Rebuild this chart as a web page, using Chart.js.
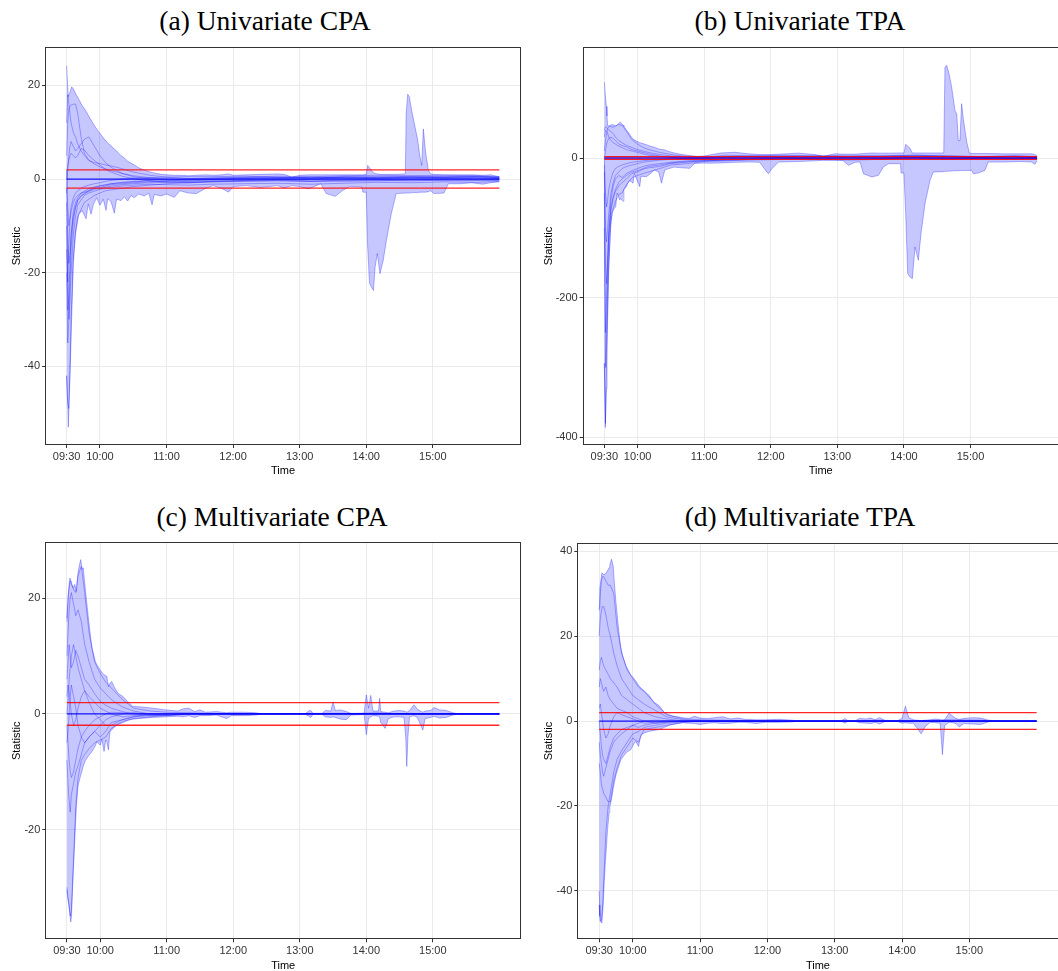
<!DOCTYPE html>
<html>
<head>
<meta charset="utf-8">
<script src="https://cdn.jsdelivr.net/npm/chart.js@4.4.1/dist/chart.umd.min.js"></script>
<style>
  html, body { margin: 0; padding: 0; background: #fff; width: 1058px; height: 971px; overflow: hidden; }
  .panel { position: absolute; width: 530px; height: 440px; }
  .panel canvas { display: block; }
  .title { position: absolute; font-family: "Liberation Serif", "Times New Roman", serif; font-size: 27.5px;
           line-height: 27px; white-space: nowrap; transform: translateX(-50%); color: #000; }
</style>
</head>
<body>
<div class="title" style="left:265px;top:7px">(a) Univariate CPA</div>
<div class="title" style="left:800px;top:7px">(b) Univariate TPA</div>
<div class="title" style="left:272px;top:503px">(c) Multivariate CPA</div>
<div class="title" style="left:800px;top:503px">(d) Multivariate TPA</div>

<div class="panel" style="left:0;top:40px"><canvas id="panelA" width="530" height="440"></canvas></div>
<div class="panel" style="left:529px;top:40px"><canvas id="panelB" width="530" height="440"></canvas></div>
<div class="panel" style="left:0;top:535px"><canvas id="panelC" width="530" height="440"></canvas></div>
<div class="panel" style="left:529px;top:535px"><canvas id="panelD" width="530" height="440"></canvas></div>

<script>
// Time is counted in minutes after the 09:30 open; the session closes at 16:00 (390 min).
const tickMinutes = [0, 30, 90, 150, 210, 270, 330];
const tickLabels = ['09:30', '10:00', '11:00', '12:00', '13:00', '14:00', '15:00'];
const sessionBounds = [0, 390];
const criticalValues = [-1.96, 1.96];
const centreLevel = 0;

// Sampling times shared by the individual statistic paths
const lineMinutes = [0, 1, 2, 3, 4, 6, 8, 10, 13, 16, 20, 25, 30, 35, 40, 50, 60, 75, 90, 110, 130, 160, 190, 220, 250, 280, 310, 340, 370, 390];

// ---------- (a) Univariate CPA ----------
const minutesA = [0, 1, 1.5, 3, 4.5, 6, 8, 11, 14, 17.5, 19.5, 22, 24, 27, 30, 33, 35.5, 37, 40, 43, 45, 49, 52, 55, 58, 61, 65, 70, 74, 77, 79, 85, 90, 97, 102, 110, 117, 125, 132, 140, 146, 150, 162, 175, 190, 196, 203, 210, 218, 229, 234, 242, 249, 255, 266, 267, 270, 271.3, 273, 276.5, 278, 280, 282.4, 285.3, 288.2, 292.6, 297, 305.3, 306, 307.4, 308.8, 310.9, 314, 316.2, 318.5, 320, 321.5, 323.5, 326, 328, 331, 340, 344, 355, 365, 375, 382, 390];
const upperA = [24.2, 19.5, 17.6, 18.5, 19.7, 19.3, 18.3, 17, 15.7, 14.5, 13.6, 12.6, 11.8, 10.7, 9.8, 8.8, 8.1, 7.7, 7.1, 6.4, 6, 5, 4.5, 3.8, 3.4, 3, 2.4, 1.9, 1.6, 1.4, 1.3, 1, 0.9, 0.8, 0.8, 0.7, 0.8, 0.9, 0.8, 0.9, 1.1, 0.8, 0.9, 1, 1.1, 1, 0.4, 0.8, 0.9, 0.9, 0.9, 0.9, 0.9, 0.9, 0.9, 0.9, 1, 2.9, 2.4, 1.3, 1.2, 1.1, 1, 1, 1, 1, 1, 1.1, 14, 18.1, 17.6, 14.7, 11.1, 8.6, 4.7, 2.9, 10.7, 5.8, 1.9, 1.1, 1, 0.9, 0.9, 0.9, 0.9, 0.8, 0.9, 0.5];
const lowerA = [-42, -48, -53, -42, -30, -18, -11.7, -7.5, -6.7, -8.5, -5.3, -7.5, -5.5, -4, -5.6, -4.3, -6.7, -4.2, -4.8, -7.3, -4.3, -4.6, -3.8, -4.7, -3.5, -4, -3.2, -3.6, -3, -5.5, -3.3, -3.6, -3.2, -3.9, -2.5, -3, -3.1, -2, -1.4, -2, -2.8, -1.6, -1.4, -1.8, -1.4, -1.9, -1.4, -1.6, -2.1, -1, -3.1, -3.7, -2.4, -1.6, -1.7, -2.8, -2.8, -14.5, -22.3, -23.8, -18.8, -15.9, -20.2, -17.4, -13.1, -7.4, -3.1, -3, -3, -3, -3, -2.9, -2.9, -2.9, -2.8, -2.8, -2.8, -2.8, -2.7, -2.5, -3.1, -3, -1, -1, -0.8, -1.1, -0.8, -0.6];
const pathsA = [
  [5, 12, 15, 15.5, 15.8, 16, 16, 14, 9, 5.5, 4, 3.2, 2.6, 2.2, 1.8, 1.2, 0.7, 0.3, 0, -0.2, -0.1, 0.1, 0.3, 0.2, 0.4, 0.3, 0.5, 0.4, 0.5, 0.3],
  [-3, 2, 5, 7, 8, 7, 6, 6.5, 7.5, 8.5, 9, 7, 5, 3.5, 2.5, 1.2, 0.5, 0, -0.3, -0.4, -0.2, 0, 0.1, 0, 0.2, 0.1, 0.3, 0.2, 0.2, 0.1],
  [0, 3, 4, 5, 5.5, 5, 4.5, 5, 6.5, 6.2, 5, 4, 3, 2, 1.5, 0.6, 0.1, -0.4, -0.6, -0.8, -0.6, -0.4, -0.3, -0.5, -0.2, -0.1, -0.2, 0, 0, -0.1],
  [-42, -48, -49, -41, -30, -17, -11, -8, -6.5, -5, -4.3, -3.5, -3, -2.5, -2.3, -2, -1.6, -1.3, -1, -0.8, -0.6, -0.5, -0.4, -0.5, -0.3, -0.4, -0.2, -0.3, -0.2, -0.3],
  [-10, -28, -25, -18, -12, -7, -5, -4, -3, -2.8, -2.5, -2, -1.8, -1.5, -1.2, -1, -0.8, -0.6, -0.4, -0.2, 0, 0.2, 0.3, 0.2, 0.4, 0.5, 0.3, 0.4, 0.5, 0.3],
  [-5, -20, -30, -26, -20, -12, -8, -5.5, -4.5, -3.5, -3, -2.6, -2.2, -2, -1.8, -1.5, -1.3, -1.1, -1.2, -1.3, -1.1, -1, -0.9, -1.1, -0.9, -0.7, -0.8, -0.6, -0.7, -0.5],
  [-2, -12, -18, -16, -12, -8, -6, -4.5, -3.5, -3.2, -2.4, -1.8, -1.4, -1.2, -1, -0.7, -0.5, -0.3, -0.1, 0, 0.2, 0.4, 0.6, 0.5, 0.7, 0.8, 0.7, 0.8, 0.7, 0.5],
  [2, -6, -10, -8, -6, -4, -3, -2.5, -2, -1.6, -1.3, -1, -0.8, -0.5, -0.3, 0, 0.2, 0.3, 0.4, 0.5, 0.5, 0.6, 0.4, 0.3, 0.5, 0.4, 0.6, 0.5, 0.6, 0.4],
  [-20, -35, -30, -22, -15, -9, -6, -4.5, -3.8, -3, -2.7, -2.2, -2, -1.8, -1.5, -1.2, -1, -0.8, -0.7, -0.5, -0.4, -0.3, -0.1, 0, 0.1, 0.2, 0.1, 0.2, 0.3, 0.1],
  [-15, -22, -14, -9, -7, -5, -4, -3.5, -3, -2.6, -2, -1.7, -1.5, -1.3, -1, -0.8, -0.6, -0.4, -0.6, -0.7, -0.5, -0.3, -0.2, -0.4, -0.5, -0.3, -0.4, -0.2, -0.3, -0.2],
  [12, 18, 16, 14, 12, 10, 9, 7.5, 6, 5, 4, 3.5, 3.3, 3, 2.8, 2.2, 1.5, 0.8, 0.4, 0.1, 0.2, 0.3, 0.2, 0.4, 0.3, 0.2, 0.4, 0.3, 0.2, 0.2]
];
const yTicksA = [-40, -20, 0, 20];

// ---------- (b) Univariate TPA ----------
const minutesB = [0, 0.9, 1.8, 2.4, 3, 3.9, 5.5, 7, 9, 10.2, 11.5, 13.9, 14.5, 16.9, 17.6, 19.9, 22, 23.6, 25.9, 27, 31.9, 33, 38, 41.8, 45, 49, 51.5, 54.5, 59, 63, 70, 77, 81, 84, 90, 93, 105, 117.6, 130, 140, 146.4, 148, 151, 157, 175, 190, 197.5, 208, 215, 220, 226, 230.5, 233.5, 241, 247, 251.5, 256, 267, 267.4, 270, 271.6, 273.4, 275.5, 277.6, 280, 281.5, 283, 285.4, 289, 293.5, 296.5, 305.9, 307, 308.6, 310.7, 313, 316, 317.6, 319, 320.5, 322, 323.5, 326.6, 329, 331, 332.6, 337, 343, 346, 360, 375, 385, 388, 390];
const upperB = [109, 90, 74, 60, 46, 46, 47, 48, 47, 46, 47, 51, 51.3, 47, 45.6, 40, 36, 32, 27, 26, 22, 21.5, 19, 16.8, 15.5, 13, 12.2, 11.5, 9, 7.2, 5, 3.6, 2.8, 2.4, 3, 3.8, 7.2, 8.2, 6, 5, 5, 5, 5, 5.5, 7, 5, 2.4, 6.2, 5.5, 5.5, 5.5, 6, 6.5, 7.2, 7, 7, 7, 7.2, 7.2, 7.2, 19.6, 17, 14, 7.2, 7.2, 7.2, 7.2, 7.2, 7.2, 7.2, 7.2, 7.2, 130, 132.7, 120.8, 101.7, 68, 63.5, 25, 25, 77.8, 56.3, 22.9, 7.2, 6.5, 6.5, 6.5, 6.5, 6.5, 6, 6, 6, 5, 3];
const lowerB = [-294, -386, -330, -271, -230, -165, -100, -78, -72, -70, -50, -60, -58, -62, -45, -41, -33, -33, -36, -22, -41, -26, -26.7, -22, -17, -20, -36, -17, -14.8, -13, -14, -14.8, -8.2, -7.6, -7.2, -7.5, -7, -6.2, -5.7, -6, -20, -22.4, -15.3, -5.7, -5, -4, -3.3, -3.3, -3.5, -10.5, -6, -5.7, -22.4, -27.2, -24.8, -12.9, -8.1, -8.1, -21.5, -21.5, -79.7, -165.6, -170.4, -172.8, -127.4, -136.9, -146.5, -108.3, -65.4, -32, -20, -19.5, -19, -19, -18.8, -18.6, -18.3, -18.2, -18.1, -18, -18, -17.9, -17.8, -17.7, -17.7, -22.4, -21.5, -17.7, -5.7, -5.7, -5, -5.7, -9, -4];
const pathsB = [
  [10, 25, 35, 42, 45, 45, 44, 46, 48, 47, 38, 26, 20, 15, 12, 8, 5, 2, 1, 4, 3, 2, 3, 4, 3, 4, 3, 2, 3, 2],
  [40, 45, 44, 42, 40, 38, 35, 30, 25, 22, 18, 15, 12, 10, 8, 5, 3, 1, 0, 1, 2, 1, 0, 1, 2, 1, 0, 1, 2, 0],
  [0, 10, 20, 25, 28, 30, 28, 25, 20, 18, 16, 12, 10, 8, 6, 3, 1, -1, -2, -1, 0, 1, 2, 1, 0, 1, 2, 1, 0, 1],
  [-294, -380, -290, -210, -150, -90, -72, -62, -52, -50, -38, -28, -25, -22, -20, -15, -10, -8, -5, -4, -3, -2, -2, -3, -2, -1, -2, -1, -2, -1],
  [-50, -250, -200, -150, -100, -60, -40, -30, -25, -28, -22, -18, -15, -12, -10, -8, -6, -4, -3, -2, -1, 0, -1, -2, -1, 0, -1, 0, -1, 0],
  [-20, -150, -180, -140, -110, -70, -55, -45, -35, -30, -25, -20, -18, -15, -12, -10, -7, -5, -4, -3, -2, -1, 0, -1, 0, 1, 0, -1, 0, -1],
  [-10, -100, -120, -100, -80, -50, -35, -25, -20, -15, -12, -10, -8, -6, -5, -3, -2, -1, 0, 1, 2, 3, 2, 1, 2, 3, 2, 1, 2, 1],
  [0, -50, -70, -60, -45, -30, -20, -15, -12, -10, -8, -6, -5, -4, -3, -2, -1, 0, 1, 2, 3, 4, 3, 2, 3, 4, 3, 2, 3, 2],
  [-100, -300, -240, -170, -120, -75, -58, -48, -40, -35, -30, -22, -20, -16, -14, -12, -8, -6, -4, -3, -2, -1, -1, -2, -1, 0, -1, 0, -1, 0],
  [30, 40, 38, 35, 30, 25, 22, 20, 17, 15, 12, 10, 8, 6, 4, 2, 1, 0, -1, 0, 1, 0, 1, 2, 1, 2, 1, 0, 1, 0]
];
const yTicksB = [-400, -200, 0];

// ---------- (c) Multivariate CPA ----------
const minutesC = [0, 1.2, 2.6, 3.5, 4.1, 5, 5.6, 7, 8.5, 10, 11, 12.4, 13.8, 14.7, 16.8, 19.7, 22.6, 25.6, 27, 30, 31.5, 33.5, 35, 36, 37.4, 38.8, 40.3, 43.2, 46, 50.6, 55, 59.4, 68, 77, 89, 100, 105, 110, 115, 120, 125, 135, 144, 148, 160, 170, 175, 215, 218, 220, 222, 230, 233, 238, 240, 242, 247, 252, 256, 268, 270, 272, 274, 276, 281, 282, 283, 287, 290, 295, 300, 304, 305.5, 306.5, 307.5, 309, 313, 316, 321, 323, 328, 331, 336, 342, 348, 352, 390];
const upperC = [16.6, 20.6, 23.5, 23.2, 22.7, 22.2, 21.8, 22.4, 21.2, 24.4, 25.5, 26.7, 25, 25.3, 21.2, 16, 11.4, 9.1, 8.5, 7.6, 7.2, 6.8, 6.6, 6.5, 4.7, 5.3, 5.6, 4.5, 3.6, 3, 2.1, 1.3, 1.2, 1, 0.7, 0.5, 0.9, 1, 0.4, 0.7, 0.3, 0.4, 0.2, 0.3, 0.3, 0.2, 0.05, 0.05, 0.5, 0.6, 0.05, 0.05, 0.6, 0.5, 2.1, 0.6, 0.7, 0.4, 0.1, 0.1, 3.3, 1, 3.2, 0.5, 0.5, 2.7, 0.4, 0.3, 0.2, 0.5, 0.6, 0.5, 0.4, 0.3, 0.4, 0.6, 1.6, 0.8, 0.3, 0.5, 0.6, 1.1, 0.7, 0.6, 0.2, 0.05, 0.05];
const lowerC = [-30.5, -32.5, -34.5, -36, -35, -30.8, -28, -22.1, -16, -12.5, -11.7, -10.6, -9.8, -9, -8, -7.2, -6.5, -5.5, -4.8, -5.4, -4.4, -6.5, -4.5, -4.8, -6.2, -3.1, -2.8, -2.2, -1.8, -1.5, -1.1, -0.9, -0.75, -0.6, -0.5, -0.4, -0.5, -0.3, -0.6, -0.3, -0.3, -0.2, -0.8, -0.3, -0.3, -0.2, -0.05, -0.05, -0.4, -0.6, -0.05, -0.05, -0.5, -0.6, -0.5, -0.6, -0.9, -1, -0.2, -0.1, -3.6, -0.8, -0.5, -0.3, -0.4, -0.5, -1.5, -2.5, -0.8, -0.5, -0.5, -0.6, -4, -9.1, -4, -0.5, -0.3, -0.6, -2.8, -0.8, -0.6, -0.4, -0.7, -0.6, -0.2, -0.05, -0.05];
const pathsC = [
  [16, 20, 22, 23, 22.5, 21.5, 21, 24, 25.5, 21, 14, 9, 7, 5.5, 4.5, 2.5, 1, 0.5, 0.3, 0.2, 0.1, 0, 0, 0.1, 0.1, 0, 0.1, 0, 0, 0],
  [10, 14, 18, 20, 21, 19, 17, 18, 16, 12, 9, 6, 4.5, 3.5, 2.5, 1.2, 0.5, 0, -0.2, -0.1, 0, 0, 0, 0, 0, 0.2, -0.1, 0, 0, 0],
  [6, 9, 12, 10, 8, 9, 11, 10, 8, 6, 5, 3.5, 2.2, 1.5, 1, 0.4, 0, -0.3, -0.2, 0.1, 0, 0, 0, 0, 0, 0, 0, 0, 0, 0],
  [3, 5, 4, 2, 0, -2, -1, 1, 3, 4, 3, 2, 1, 0.5, 0, -0.5, -0.3, -0.1, 0, 0, 0, 0, 0, 0, 0, 0, 0, 0, 0, 0],
  [-2, -5, -8, -10, -11, -10, -8, -6, -4, -3, -2, -1, -0.5, 0, 0.3, 0.2, 0.1, 0, 0, 0, 0, 0, 0, 0, 0, 0, 0, 0, 0, 0],
  [-8, -12, -15, -17, -14, -12, -10, -9, -7, -5, -4, -3, -4, -3, -1.5, -1, -0.5, -0.3, -0.2, 0, 0, 0, 0, 0, 0, 0, 0, 0, 0, 0],
  [-30, -32, -33, -35, -34, -25, -16, -11, -8, -7, -6, -5, -4.5, -4, -2.5, -1.3, -0.8, -0.5, -0.3, 0, 0, 0, 0, 0, 0, 0, 0, 0, 0, 0],
  [0, 2, 6, 8, 10, 12, 10, 8, 6, 4, 2, 0, -1, -2, -2, -1, -0.5, 0, 0, 0, 0, 0, 0, 0, 0, 0, 0, 0, 0, 0],
  [-5, -3, 0, 3, 5, 3, 1, -2, -4, -5, -4, -3, -2, -1, -0.5, 0, 0.2, 0, 0, 0, 0, 0, 0, 0, 0, 0, 0, 0, 0, 0]
];
const yTicksC = [-20, 0, 20];

// ---------- (d) Multivariate TPA ----------
const minutesD = [0, 0.6, 1, 2.4, 3.6, 4.5, 5.4, 6.5, 7.4, 8.9, 9.5, 11, 12.5, 13.4, 14.9, 16.4, 17.9, 19.3, 20.8, 23.8, 25.3, 28.3, 31.3, 32.7, 35.1, 37.2, 40.2, 44.6, 49, 53.6, 58, 62.5, 65.5, 74.4, 80, 85, 90, 97, 103, 110, 117, 124, 130, 140, 148, 160, 172, 176, 216, 219, 222, 228, 232, 238, 242, 246, 250, 255, 266, 270, 273, 276, 280, 283, 287, 291, 295, 300, 304, 306, 308, 312, 315, 318, 321, 325, 333, 340, 347, 352, 390];
const upperD = [26.6, 31.3, 32, 34.9, 34.6, 34.5, 34.7, 34.9, 35.4, 36.1, 36.8, 38.1, 36.5, 33, 28.2, 24, 20.2, 17.3, 15.5, 13, 12.3, 10.8, 9.9, 9.4, 8.4, 7.8, 7.1, 6, 4.4, 3.6, 2, 1.5, 1.2, 0.8, 0.6, 1.1, 0.7, 0.6, 0.8, 1, 0.5, 0.7, 0.4, 0.3, 0.3, 0.4, 0.2, 0.05, 0.05, 0.6, 0.05, 0.05, 0.6, 0.5, 0.7, 0.3, 0.8, 0.1, 0.1, 0.6, 3.5, 0.8, 0.3, 0.2, 0.1, 0.2, 0.3, 0.5, 0.3, 0.2, 0.3, 1.9, 1.2, 0.6, 0.4, 0.6, 0.8, 0.7, 0.2, 0.05, 0.05];
const lowerD = [-43.3, -46, -47.2, -47.6, -43.3, -38, -33.7, -29.5, -25.8, -21.5, -20.2, -18.4, -16, -14.7, -12.8, -11.5, -10.3, -9.1, -8.6, -7.5, -7.2, -6.7, -5.2, -4.8, -6, -3.2, -2.8, -2.4, -2.2, -2, -1.5, -1, -0.8, -0.4, -0.5, -0.6, -0.8, -0.5, -0.4, -0.6, -0.5, -0.3, -0.3, -0.6, -0.3, -0.3, -0.2, -0.05, -0.05, -0.5, -0.05, -0.05, -0.4, -0.5, -0.6, -0.3, -0.7, -0.1, -0.1, -0.5, -0.4, -0.5, -0.5, -1.5, -3, -1.2, -0.3, -0.4, -0.5, -7.9, -1, -0.3, -0.4, -0.6, -1.4, -0.6, -0.7, -0.8, -0.2, -0.05, -0.05];
const pathsD = [
  [26, 30, 33, 34, 34, 33, 32, 32, 30, 22, 16, 12, 10, 8, 7, 4, 1.5, 0.5, 0.3, 0.2, 0.1, 0, 0, 0, 0.2, 0, 0.3, 0.2, 0, 0],
  [20, 24, 26, 27, 27, 25, 22, 20, 16, 13, 10, 8, 6, 5, 4, 2.5, 1, 0.3, 0, 0, 0, 0, 0, 0, 0, 0, 0, 0, 0, 0],
  [12, 14, 15, 14, 13, 12, 11, 10, 9, 8, 6, 5, 4, 3, 2, 1, 0.5, 0, 0, 0, 0, 0, 0, 0, 0, 0, 0, 0, 0, 0],
  [8, 10, 9, 8, 7, 8, 6, 5, 4, 3, 2.5, 2, 1, 0.5, 0, -0.5, -0.3, 0, 0, 0, 0, 0, 0, 0, 0, 0, 0, 0, 0, 0],
  [3, 4, 2, 0, -2, -4, -3, -1, 1, 2, 1.5, 1, 0.5, 0, -0.5, -0.3, 0, 0, 0, 0, 0, 0, 0, 0, 0, 0, 0, 0, 0, 0],
  [-5, -8, -10, -12, -13, -11, -9, -7, -5, -4, -3, -2, -1, -1.5, -1, -0.5, -0.2, 0, 0, 0, 0, 0, 0, 0, 0, 0, 0, 0, 0, 0],
  [-10, -12, -15, -16, -17, -18, -19, -19, -14, -11, -8, -6, -4, -5, -2, -1.5, -1, -0.3, 0, 0, 0, 0, 0, 0, 0, 0, 0, 0, 0, 0],
  [-40, -47, -47, -44, -38, -26, -20, -17, -12, -9, -7, -5, -3, -2.5, -1.5, -1, -0.5, -0.2, 0, 0, 0, 0, 0, 0, 0, 0, 0, 0, 0, 0],
  [0, -3, -6, -8, -9, -10, -8, -6, -4, -3, -2, -1.5, -1, -0.5, 0, 0.2, 0.1, 0, 0, 0, 0, 0, 0, 0, 0, 0, 0, 0, 0, 0]
];
const yTicksD = [-40, -20, 0, 20, 40];

// ---------- drawing ----------
Chart.defaults.font.family = '"Liberation Sans", Arial, sans-serif';
Chart.defaults.font.size = 11;

const PATH_COLOUR = 'rgba(0, 0, 255, 0.38)';
const BAND_FILL = 'rgba(0, 0, 255, 0.22)';

const toPoints = (xs, ys) => xs.map((x, i) => ({ x, y: ys[i] }));
const levelPoints = v => sessionBounds.map(x => ({ x, y: v }));

// Dark box round the plotting region
const panelFrame = {
  id: 'panelFrame',
  afterDraw(chart) {
    const { ctx, chartArea: a } = chart;
    ctx.save();
    ctx.strokeStyle = '#333';
    ctx.lineWidth = 1;
    const l = Math.round(a.left) + 0.5, t = Math.round(a.top) + 0.5;
    const r = Math.round(a.right) - 0.5, b = Math.round(a.bottom) - 0.5;
    ctx.strokeRect(l, t, r - l, b - t);
    ctx.restore();
  }
};

function drawPanel(id, minutes, upper, lower, paths, yMin, yMax, yTicks, box, yTitlePad) {
  const datasets = [];
  criticalValues.forEach(v => datasets.push({
    data: levelPoints(v), borderColor: 'rgba(255, 0, 0, 0.85)', borderWidth: 1.3, order: 0
  }));
  datasets.push({ data: levelPoints(centreLevel), borderColor: 'rgba(0, 0, 255, 0.9)', borderWidth: 1.3, order: 1 });
  paths.forEach(p => datasets.push({ data: toPoints(lineMinutes, p), borderColor: PATH_COLOUR, borderWidth: 0.8, order: 2 }));
  datasets.push({
    data: toPoints(minutes, upper), borderColor: PATH_COLOUR, borderWidth: 0.8,
    backgroundColor: BAND_FILL, fill: '+1', order: 3
  });
  datasets.push({ data: toPoints(minutes, lower), borderColor: PATH_COLOUR, borderWidth: 0.8, order: 4 });

  const canvas = document.getElementById(id);
  const W = canvas.width, H = canvas.height;

  new Chart(canvas, {
    type: 'line',
    data: { datasets },
    options: {
      responsive: false,
      animation: false,
      devicePixelRatio: 1,
      events: [],
      datasets: { line: { pointRadius: 0, tension: 0, fill: false, borderJoinStyle: 'round' } },
      layout: { padding: { left: 0, bottom: 0, top: box.top, right: W - box.right } },
      plugins: { legend: { display: false }, tooltip: { enabled: false } },
      scales: {
        x: {
          type: 'linear', min: -19.5, max: 409.5,
          afterBuildTicks: s => { s.ticks = tickMinutes.map(v => ({ value: v })); },
          afterFit: s => { s.height = H - box.bottom; s.paddingLeft = 0; s.paddingRight = 0; s.paddingTop = 0; s.paddingBottom = 0; },
          ticks: {
            autoSkip: false, maxRotation: 0, minRotation: 0, padding: 2, color: '#333',
            callback: v => tickLabels[tickMinutes.indexOf(v)]
          },
          grid: { color: '#ebebeb', lineWidth: 1, tickColor: '#333', tickLength: 3 },
          border: { display: false },
          title: { display: true, text: 'Time', color: '#000', font: { size: 11 }, padding: { top: 0, bottom: 2 } }
        },
        y: {
          type: 'linear', min: yMin, max: yMax,
          afterBuildTicks: s => { s.ticks = yTicks.map(v => ({ value: v })); },
          afterFit: s => { s.width = box.left; s.paddingLeft = 0; s.paddingRight = 0; s.paddingTop = 0; s.paddingBottom = 0; },
          ticks: { padding: 2, color: '#333' },
          grid: { color: '#ebebeb', lineWidth: 1, tickColor: '#333', tickLength: 3 },
          border: { display: false },
          title: { display: true, text: 'Statistic', color: '#000', font: { size: 11 }, padding: { top: yTitlePad, bottom: 0 } }
        }
      }
    },
    plugins: [panelFrame]
  });
}

drawPanel('panelA', minutesA, upperA, lowerA, pathsA, -56.8, 28.2, yTicksA, { left: 45, top: 7, right: 521, bottom: 405 }, 10.1);
drawPanel('panelB', minutesB, upperB, lowerB, pathsB, -411, 159, yTicksB, { left: 53.7, top: 7, right: 529.7, bottom: 405 }, 12.9);
drawPanel('panelC', minutesC, upperC, lowerC, pathsC, -39.0, 29.7, yTicksC, { left: 45.3, top: 7.3, right: 521, bottom: 404.3 }, 10.1);
drawPanel('panelD', minutesD, upperD, lowerD, pathsD, -51.4, 42.0, yTicksD, { left: 48.3, top: 7.7, right: 529.5, bottom: 404.3 }, 12.9);
</script>
</body>
</html>
